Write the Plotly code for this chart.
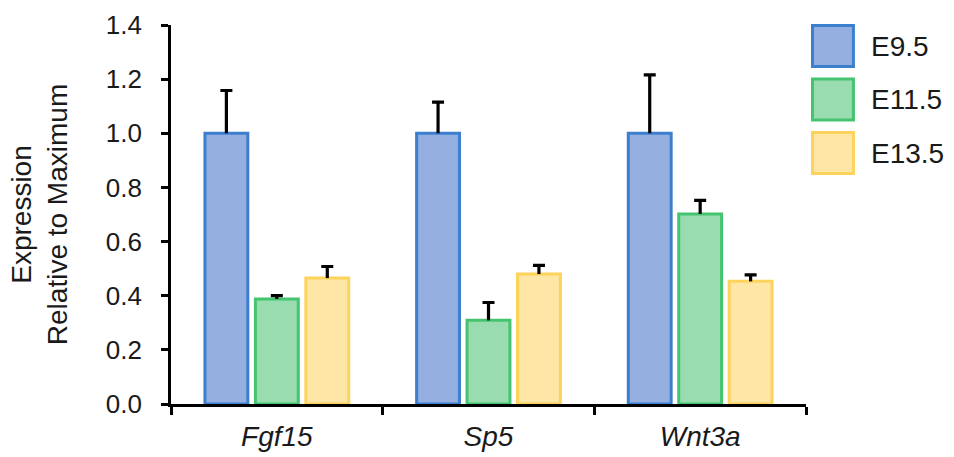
import plotly.graph_objects as go

categories = ["Fgf15", "Sp5", "Wnt3a"]
series_names = ["E9.5", "E11.5", "E13.5"]
values = {
    "E9.5": [1.0, 1.0, 1.0],
    "E11.5": [0.388, 0.309, 0.702],
    "E13.5": [0.465, 0.480, 0.453],
}
errors = {
    "E9.5": [0.158, 0.115, 0.216],
    "E11.5": [0.012, 0.066, 0.050],
    "E13.5": [0.043, 0.032, 0.024],
}
y_ticks = [0.0, 0.2, 0.4, 0.6, 0.8, 1.0, 1.2, 1.4]

fills = {"E9.5": "#94AFE0", "E11.5": "#98DCAF", "E13.5": "#FEE6A6"}
borders = {"E9.5": "#3C7FCE", "E11.5": "#44C46F", "E13.5": "#FDD35C"}

W, H = 954, 457
ML, MR, MT, MB = 170.5, 147.5, 25, 52.7
PW = W - ML - MR
PH = H - MT - MB

FONT = "Liberation Sans, Arial, sans-serif"
TXT = "#1a1a1a"

fig = go.Figure()
for i, s in enumerate(series_names):
    fig.add_trace(go.Bar(
        name=s, x=categories, y=values[s], offsetgroup=str(i),
        marker=dict(color=fills[s], line=dict(color=borders[s], width=3)),
        showlegend=False,
    ))
# upward-only error bars: thin stem bar from value to value+error, cap at top
stem_w = 3.2 / (PW / len(categories))
for i, s in enumerate(series_names):
    fig.add_trace(go.Bar(
        name=s + " error", x=categories, y=errors[s], base=values[s],
        offsetgroup=str(i), width=stem_w,
        marker=dict(color="black", line=dict(width=0)),
        error_y=dict(type="data", symmetric=False,
                     array=[0] * len(categories), arrayminus=[0] * len(categories),
                     color="black", thickness=3.2, width=6),
        showlegend=False, hoverinfo="skip",
    ))

def px_x(px):
    return (px - ML) / PW

def px_y(py):
    return (H - MB - py) / PH

# legend drawn with swatches + labels
for i, s in enumerate(series_names):
    top = 25.5 + i * 53.5
    fig.add_shape(type="rect", xref="paper", yref="paper",
                  x0=px_x(813), x1=px_x(854), y0=px_y(top + 41), y1=px_y(top),
                  fillcolor=fills[s], line=dict(color=borders[s], width=3))
    fig.add_annotation(xref="paper", yref="paper", x=px_x(870), y=px_y(top + 21),
                       text=s, showarrow=False, xanchor="left", yanchor="middle",
                       font=dict(family=FONT, size=28, color=TXT))

fig.update_layout(
    width=W, height=H,
    margin=dict(l=ML, r=MR, t=MT, b=MB, pad=0, autoexpand=False),
    paper_bgcolor="white", plot_bgcolor="white",
    barmode="group", bargap=0.285, bargroupgap=0.15,
    font=dict(family=FONT, color=TXT),
)
fig.update_xaxes(
    type="category", tickson="boundaries", ticks="outside", ticklen=8,
    tickwidth=2.5, tickcolor="black", showline=True, linecolor="black",
    linewidth=2.5, showgrid=False, zeroline=False, ticklabelstandoff=6,
    automargin=False,
    tickfont=dict(family=FONT, size=28, color=TXT, style="italic"),
)
fig.update_yaxes(
    range=[0, 1.4], tickvals=y_ticks, ticktext=[f"{v:.1f}" for v in y_ticks],
    ticks="outside", ticklen=7, tickwidth=2.5, tickcolor="black",
    showline=True, linecolor="black", linewidth=2.8, showgrid=False,
    zeroline=False, ticklabelstandoff=14, automargin=False,
    tickfont=dict(family=FONT, size=26, color=TXT),
    title=dict(text="Expression<br>Relative to Maximum",
               font=dict(family=FONT, size=28, color=TXT), standoff=30),
)

fig.write_html("out.html")
